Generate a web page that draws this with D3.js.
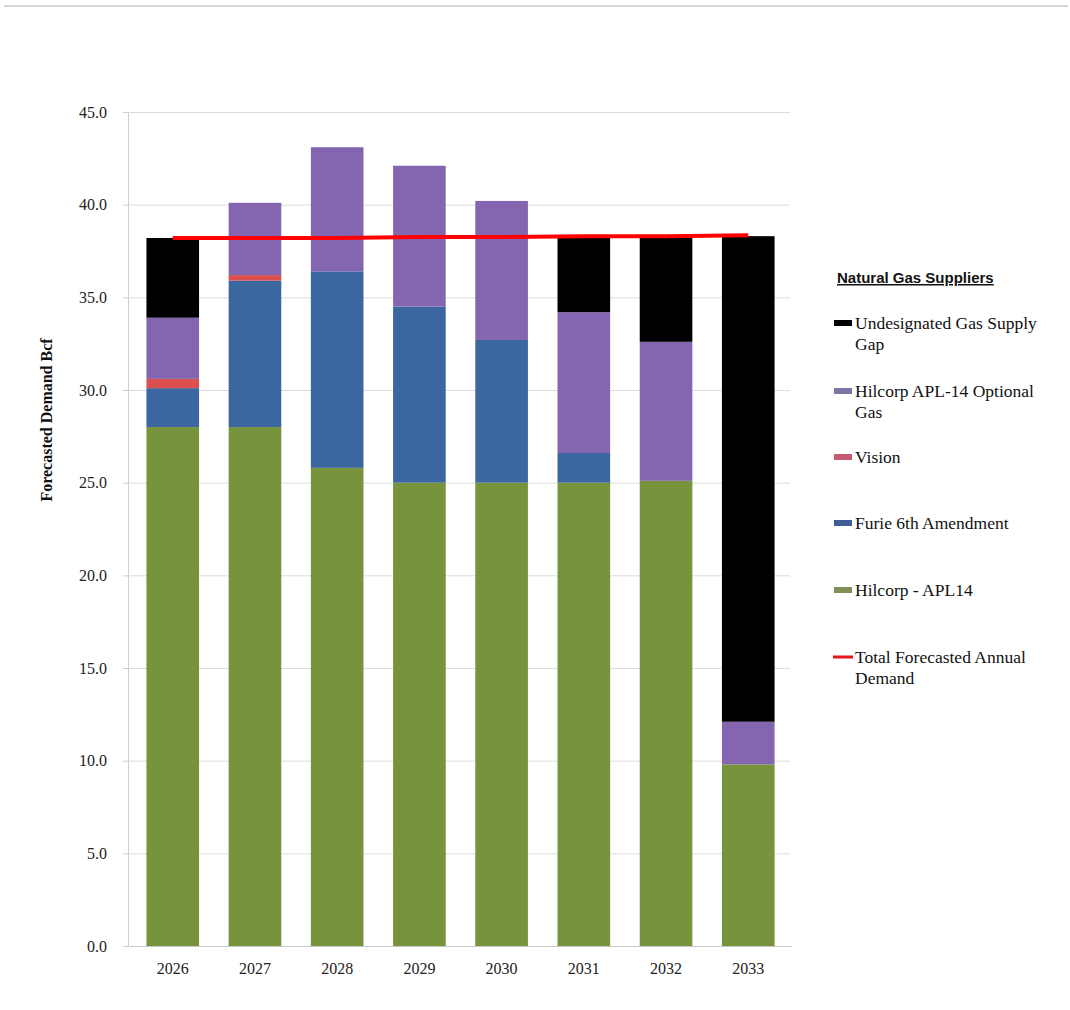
<!DOCTYPE html>
<html>
<head>
  <meta charset="utf-8">
  <title>Natural Gas Suppliers</title>
  <script src="https://d3js.org/d3.v7.min.js"></script>
  <style>
    body, html {
      margin: 0;
      padding: 0;
      background: #fff;
      overflow: hidden;
    }
    svg { display: block; }
    .tick-label { font-family: "Liberation Serif", serif; font-size: 16px; fill: #222; }
    .legend-text { font-family: "Liberation Serif", serif; font-size: 17.5px; fill: #111; }
  </style>
</head>
<body>
  <svg id="chart" width="1070" height="1010"></svg>
  <script>
    // categories + stacked series (Bcf), bottom to top
    var years = ["2026", "2027", "2028", "2029", "2030", "2031", "2032", "2033"];
    var hilcorpApl14 = [28.0, 28.0, 25.8, 25.0, 25.0, 25.0, 25.1, 9.8];
    var furie6th = [2.1, 7.9, 10.6, 9.5, 7.7, 1.6, 0, 0];
    var vision = [0.5, 0.3, 0, 0, 0, 0, 0, 0];
    var hilcorpOptional = [3.3, 3.9, 6.7, 7.6, 7.5, 7.6, 7.5, 2.3];
    var supplyGap = [4.3, 0, 0, 0, 0, 4.1, 5.7, 26.2];
    var totalDemand = [38.2, 38.2, 38.2, 38.25, 38.25, 38.3, 38.3, 38.35];
    var yTicks = [0, 5, 10, 15, 20, 25, 30, 35, 40, 45];

    var seriesKeys = ["apl14", "furie", "vision", "optional", "gap"];
    var colors = {
      apl14: "#77933c",
      furie: "#3b66a0",
      vision: "#d9504f",
      optional: "#8466b0",
      gap: "#000000"
    };

    var rows = years.map(function(y, i) {
      return {
        year: y,
        apl14: hilcorpApl14[i],
        furie: furie6th[i],
        vision: vision[i],
        optional: hilcorpOptional[i],
        gap: supplyGap[i],
        demand: totalDemand[i]
      };
    });

    var svg = d3.select("#chart");

    // faint frame line at top of the picture
    svg.append("line")
      .attr("x1", 4).attr("x2", 1068)
      .attr("y1", 6).attr("y2", 6)
      .attr("stroke", "#d8d8d8").attr("stroke-width", 2);

    var xScale = d3.scaleBand()
      .domain(years)
      .range([130, 791])
      .paddingInner(0.36)
      .paddingOuter(0.2);

    var yScale = d3.scaleLinear()
      .domain([0, 45])
      .range([946, 112]);

    // gridlines
    svg.append("g")
      .attr("transform", "translate(128,0)")
      .call(d3.axisLeft(yScale).tickValues(yTicks).tickSize(-662).tickFormat(""))
      .call(function(g) {
        g.select(".domain").attr("stroke", "#d0d0d0");
        g.selectAll(".tick line").attr("stroke", "#dcdcdc");
      });

    // y tick marks and labels
    svg.append("g")
      .attr("transform", "translate(128,0)")
      .call(d3.axisLeft(yScale).tickValues(yTicks).tickSize(5).tickPadding(16).tickFormat(d3.format(".1f")))
      .call(function(g) {
        g.select(".domain").remove();
        g.selectAll(".tick line").attr("stroke", "#cfcfcf");
        g.selectAll(".tick text").attr("class", "tick-label").attr("fill", "#222");
      });

    // stacked bars
    var stack = d3.stack().keys(seriesKeys);
    var layers = stack(rows);

    svg.append("g")
      .selectAll("g")
      .data(layers)
      .join("g")
      .attr("fill", function(d) { return colors[d.key]; })
      .selectAll("rect")
      .data(function(d) { return d; })
      .join("rect")
      .attr("x", function(d) { return xScale(d.data.year); })
      .attr("width", xScale.bandwidth())
      .attr("y", function(d) { return yScale(d[1]); })
      .attr("height", function(d) { return Math.max(0, yScale(d[0]) - yScale(d[1])); });

    // x axis
    svg.append("g")
      .attr("transform", "translate(0,946)")
      .call(d3.axisBottom(xScale).tickSize(0).tickPadding(17))
      .call(function(g) {
        g.select(".domain").attr("stroke", "#c8c8c8");
        g.selectAll(".tick text").attr("class", "tick-label").attr("fill", "#222");
      });

    // total demand line
    var line = d3.line()
      .x(function(d) { return xScale(d.year) + xScale.bandwidth() / 2; })
      .y(function(d) { return yScale(d.demand); });

    svg.append("path")
      .datum(rows)
      .attr("fill", "none")
      .attr("stroke", "#ff0000")
      .attr("stroke-width", 4)
      .attr("d", line);

    // y axis title
    svg.append("text")
      .attr("transform", "translate(52,420) rotate(-90)")
      .attr("text-anchor", "middle")
      .style("font-family", "'Liberation Serif', serif")
      .style("font-weight", "bold")
      .style("font-size", "16px")
      .attr("fill", "#111")
      .text("Forecasted Demand Bcf");

    // legend
    var legend = svg.append("g");
    legend.append("text")
      .attr("x", 837).attr("y", 283)
      .style("font-family", "'Liberation Sans', sans-serif")
      .style("font-weight", "bold")
      .style("font-size", "15px")
      .style("text-decoration", "underline")
      .attr("fill", "#111")
      .text("Natural Gas Suppliers");

    var legendItems = [
      { key: "gap", lines: ["Undesignated Gas Supply", "Gap"], y: 323 },
      { key: "optional", lines: ["Hilcorp APL-14 Optional", "Gas"], y: 391, swatch: "#7b76a6" },
      { key: "vision", lines: ["Vision"], y: 457, swatch: "#c65a72" },
      { key: "furie", lines: ["Furie 6th Amendment"], y: 523, swatch: "#3e5d95" },
      { key: "apl14", lines: ["Hilcorp - APL14"], y: 590, swatch: "#7f8f55" },
      { key: "demand", lines: ["Total Forecasted Annual", "Demand"], y: 657 }
    ];

    legendItems.forEach(function(item) {
      if (item.key === "demand") {
        legend.append("rect")
          .attr("x", 833).attr("y", item.y - 1.5)
          .attr("width", 20).attr("height", 3)
          .attr("fill", "#e8141a");
      } else {
        legend.append("rect")
          .attr("x", 834).attr("y", item.y - 3)
          .attr("width", 18).attr("height", 6)
          .attr("fill", item.swatch || colors[item.key]);
      }
      item.lines.forEach(function(t, j) {
        legend.append("text")
          .attr("class", "legend-text")
          .attr("x", 855)
          .attr("y", item.y + 6 + j * 21)
          .text(t);
      });
    });
  </script>
</body>
</html>
